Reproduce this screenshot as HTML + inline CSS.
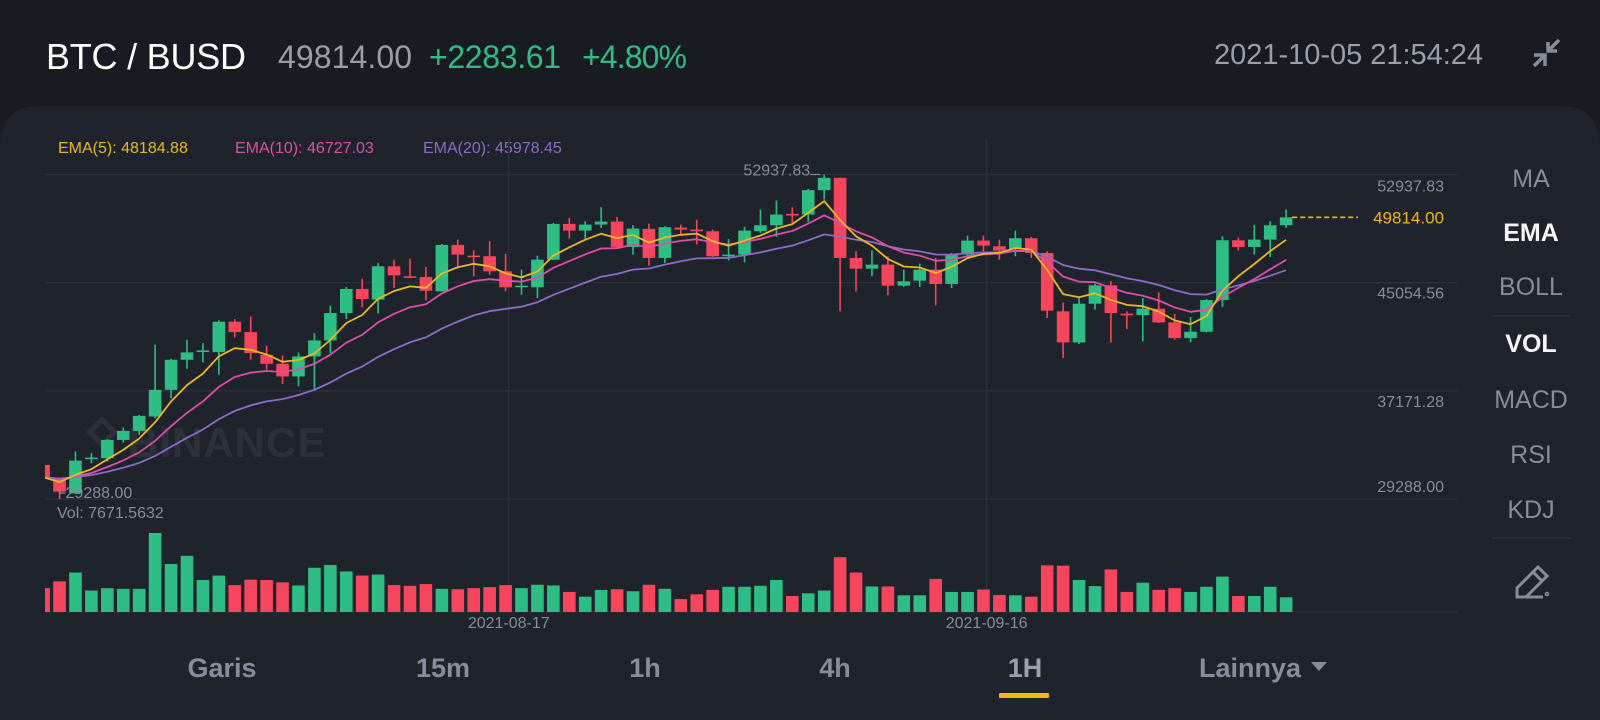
<!DOCTYPE html>
<html><head><meta charset="utf-8"><style>
html,body{margin:0;padding:0;background:#181b21;}
svg{display:block;font-family:"Liberation Sans",sans-serif;}
</style></head><body>
<svg id="chart" width="1600" height="720" viewBox="0 0 1600 720">
<rect x="0" y="0" width="1600" height="720" fill="#181b21"/>
<path d="M0 146 Q0 106 40 106 L1560 106 Q1600 106 1600 146 L1600 720 L0 720 Z" fill="#1f232b"/>
<g>
<text x="46" y="69" font-size="36" fill="#ffffff" textLength="200">BTC / BUSD</text>
<text x="278" y="68" font-size="32" fill="#9a9ea6" textLength="134">49814.00</text>
<text x="429" y="68" font-size="32" fill="#2ebd85" textLength="132">+2283.61</text>
<text x="582" y="68" font-size="32" fill="#2ebd85" textLength="105">+4.80%</text>
<text x="1214" y="64" font-size="29" fill="#9aa0aa" textLength="269">2021-10-05 21:54:24</text>
<g stroke="#848e9c" stroke-width="3.5" fill="none" transform="translate(31,0)">
<path d="M1503 66 L1514 55 M1503 55 L1514 55 L1514 66"/>
<path d="M1528 40 L1517 51 M1517 42 L1517 51 L1526 51"/>
</g>
</g>
<g font-size="16">
<text x="58" y="153" fill="#e8b923">EMA(5): 48184.88</text>
<text x="235" y="153" fill="#de4ea9">EMA(10): 46727.03</text>
<text x="423" y="153" fill="#8d6bc9">EMA(20): 45978.45</text>
</g>
<g id="grid"></g>
<g fill="#2c323c">
<path d="M102 416 L118 432 L102 448 L86 432 Z M102 423 L111 432 L102 441 L93 432 Z" fill-rule="evenodd"/>
<text x="128" y="457" font-size="42" font-weight="bold" letter-spacing="1">BINANCE</text>
</g>
<g id="vol"></g>
<g id="candles"></g>
<g id="emas"></g>
<g id="axis" font-size="16" fill="#848e9c"></g>
<text x="57" y="518" font-size="16" fill="#848e9c">Vol: 7671.5632</text>
<g font-size="16" fill="#848e9c" text-anchor="middle" id="dates"></g>
<g font-size="25" text-anchor="middle">
<text x="1531" y="187" fill="#848e9c">MA</text>
<text x="1531" y="241" fill="#f5f5f5" font-weight="bold">EMA</text>
<text x="1531" y="295" fill="#848e9c">BOLL</text>
<rect x="1492" y="315" width="78" height="1.5" fill="#2e333c"/>
<text x="1531" y="352" fill="#f5f5f5" font-weight="bold">VOL</text>
<text x="1531" y="408" fill="#848e9c">MACD</text>
<text x="1531" y="463" fill="#848e9c">RSI</text>
<text x="1531" y="518" fill="#848e9c">KDJ</text>
<rect x="1492" y="537" width="78" height="1.5" fill="#2e333c"/>
<g fill="none" stroke="#848e9c" stroke-width="3" transform="translate(31,0)">
<path d="M1486 597 L1486 588 L1507 567 L1516 576 L1495 597 Z M1502 572 L1511 581"/>
<path d="M1496 597 L1512 597"/><circle cx="1516" cy="594" r="0.8"/>
</g>
</g>
<g font-size="27" font-weight="bold" fill="#848e9c" text-anchor="middle">
<text x="222" y="677">Garis</text>
<text x="443" y="677">15m</text>
<text x="645" y="677">1h</text>
<text x="835" y="677">4h</text>
<text x="1025" y="677" fill="#9aa1ab">1H</text>
<rect x="999" y="693" width="50" height="5" rx="1" fill="#f0b90b"/>
<text x="1250" y="677">Lainnya</text>
<path d="M1311 662 L1327 662 L1319 671 Z" fill="#848e9c"/>
</g>
</svg>
<script>
const opens=[31771,30798,29703,32209,32258,33596,34253,35299,37245,39435,40019,39994,42209,41454,39800,39143,38219,39678,40846,42841,44593,43814,46247,45518,45469,44422,47805,47026,46977,45882,44739,44715,46734,49337,48851,49289,49508,47659,48972,46856,49070,48924,48802,47026,47099,48802,49240,50067,50018,51797,52695,46856,46077,46369,44836,45201,46004,44958,47099,48121,47707,47513,48291,47221,42963,40700,43522,44861,42792,42695,43158,42160,41016,41479,43790,48145,47659,48194,49240];
const highs=[31844,30850,32744,32623,33645,34496,35421,40530,39508,40895,40652,42306,42403,42598,40457,39751,39970,41381,43377,44739,45347,46491,46734,46807,46199,47878,48194,47415,48072,47148,46004,47026,49410,49775,49532,50554,49848,49264,49362,49167,49289,49653,48924,48242,49118,50383,51040,50554,51892,52937.83,52720,47342,47415,46977,46004,46442,46856,47221,48486,48486,48194,48851,48389,47342,43620,43936,44982,45153,42963,43936,44350,42768,42549,43863,48437,48340,49264,49532,50383];
const lows=[30798,29288,29650,31893,32014,33401,33961,35177,36637,38778,39240,38340,41065,39435,38705,37659,37489,37294,39921,42403,43255,42793,44666,45396,43766,44422,46247,45518,45639,44422,44179,43936,46700,48267,48267,49045,47600,47099,46296,46491,48486,47829,46929,46685,46539,48680,48389,49410,49483,51113,42963,44422,45518,44131,44739,44739,43401,44666,46977,47342,46734,46977,46856,42476,39556,40578,43085,40700,41673,40773,42111,40895,40700,41430,43279,47415,47099,46929,49045];
const closes=[30871,29825,32087,32306,33596,34253,35348,37245,39435,39970,40116,42209,41454,39921,39143,38219,39678,40846,42841,44593,43863,46247,45590,45445,44471,47805,47099,46929,45882,44715,44836,46734,49337,48851,49289,49508,47659,48997,46856,49094,48924,48802,46977,47099,48851,49240,50018,49970,51797,52695,46856,46077,46369,44836,45153,46004,44958,47099,48121,47756,47391,48291,47221,43011,40700,43522,44861,42841,42695,43158,42160,41016,41479,43790,48145,47659,48194,49240,49814];
const volumes=[12460,16020,20648,11214,12460,12104,12104,41296,25098,29370,16732,19046,14062,16910,16732,15486,13884,23140,24564,21182,19046,19580,14062,13706,14596,12104,11926,12460,12994,14062,12460,14240,13884,10502,8010,11570,11926,10858,14240,12104,6764,9256,11570,13172,13172,13706,16732,8366,9790,11214,28658,20648,13350,13350,8722,8722,17266,10502,10502,11748,8900,8722,8010,24386,24208,16732,13528,22250,10502,15308,11570,12460,10502,13172,18512,8366,8366,13172,7672];
const priceTicks=[52937.83,45054.56,37171.28,29288.00];
const dateLabels=["2021-08-17","2021-09-16"];
const dateIndex=[29.2,59.2];
const lastPrice=49814.00;

const NS="http://www.w3.org/2000/svg";
const X0=43.6, STEP=15.93, LEFT=45, RIGHT=1457;
const PTOP=174.5, PBOT=499, PMAX=52937.83, PMIN=29288;
const VBASE=612, VH=79;
const vmax=Math.max(...volumes);
function xAt(i){return X0+STEP*i;}
function yAt(p){return PTOP+(PMAX-p)/(PMAX-PMIN)*(PBOT-PTOP);}
function vh(v){return v/vmax*VH;}
function mk(tag,attrs,parent){const e=document.createElementNS(NS,tag);for(const k in attrs)e.setAttribute(k,attrs[k]);parent.appendChild(e);return e;}

const svg=document.getElementById('chart');
const defs=mk('defs',{},svg);
const cp=mk('clipPath',{id:'clip'},defs);
mk('rect',{x:LEFT,y:100,width:RIGHT-LEFT,height:520},cp);

const grid=document.getElementById('grid');
[...priceTicks.map(yAt),VBASE].forEach(y=>{
  const l=mk('line',{x1:LEFT,x2:RIGHT,y1:y,y2:y,stroke:'#2b303a','stroke-width':1.5},grid);
  
  
});
dateIndex.forEach(di=>{
  const x=xAt(di);
  const l=mk('line',{x1:x,x2:x,y1:138,y2:VBASE,stroke:'#2b303a','stroke-width':1.5},grid);
  
  
});

const vol=document.getElementById('vol');
vol.setAttribute('clip-path','url(#clip)');
const cg=document.getElementById('candles');
cg.setAttribute('clip-path','url(#clip)');
for(let i=0;i<closes.length;i++){
  const up=closes[i]>=opens[i];
  const col=up?'#2ebd85':'#f6465d';
  const x=xAt(i);
  const h=vh(volumes[i]);
  const vb=mk('rect',{x:x-6.3,y:VBASE-h,width:12.6,height:h,fill:col},vol);
  
  
  const g=mk('g',{},cg);
  
  
  mk('line',{x1:x,x2:x,y1:yAt(highs[i]),y2:yAt(lows[i]),stroke:col,'stroke-width':1.6},g);
  const yt=yAt(Math.max(opens[i],closes[i])),yb=yAt(Math.min(opens[i],closes[i]));
  mk('rect',{x:x-6.3,y:yt,width:12.6,height:Math.max(1.6,yb-yt),fill:col},g);
}

function ema(n){const k=2/(n+1);let e=closes[0];return closes.map((c,i)=>{e=i===0?c:c*k+e*(1-k);return e;});}
const eg=document.getElementById('emas');
eg.setAttribute('clip-path','url(#clip)');
[[20,'#8d6bc9','ema20-line'],[10,'#de4ea9','ema10-line'],[5,'#e8b923','ema5-line']].forEach(([n,c,name])=>{
  const vals=ema(n);
  const d=vals.map((v,i)=>(i?'L':'M')+xAt(i).toFixed(1)+' '+yAt(v).toFixed(1)).join(' ');
  const p=mk('path',{d:d,fill:'none',stroke:c,'stroke-width':1.8,'stroke-linejoin':'round'},eg);
  
  
});

const ax=document.getElementById('axis');
const labOff=[12,11,11,-12];
priceTicks.forEach((p,k)=>{
  const t=mk('text',{x:1444,y:yAt(p)+labOff[k]+5,'text-anchor':'end'},ax);
  t.textContent=p.toFixed(2);
  
  
});
const ly=yAt(lastPrice);
const dl=mk('line',{x1:xAt(closes.length-1)+6,x2:1358,y1:ly,y2:ly,stroke:'#f0b90b','stroke-width':1.6,'stroke-dasharray':'5 3'},svg);


const lt=mk('text',{x:1444,y:ly+6,'text-anchor':'end','font-size':17,fill:'#f0b90b'},svg);
lt.textContent=lastPrice.toFixed(2);


let hi=0,lo=0;highs.forEach((v,i)=>{if(v>highs[hi])hi=i;});lows.forEach((v,i)=>{if(v<lows[lo])lo=i;});
const hx=xAt(hi),hy=yAt(highs[hi]);
const ml=mk('line',{x1:hx-14,x2:hx-4,y1:hy,y2:hy,stroke:'#848e9c','stroke-width':1.2},svg);


const mt=mk('text',{x:hx-14,y:hy+1,'text-anchor':'end','font-size':16,fill:'#848e9c'},svg);
mt.textContent=highs[hi].toFixed(2);


const lx=xAt(lo),lyy=yAt(lows[lo]);
const nl=mk('path',{d:`M${lx} ${lyy-12} L${lx} ${lyy-6} L${lx+6} ${lyy-6}`,fill:'none',stroke:'#848e9c','stroke-width':1.2},svg);


const nt=mk('text',{x:lx+6,y:lyy-6+5,'font-size':16,fill:'#848e9c'},svg);
nt.textContent=lows[lo].toFixed(2);



const dg=document.getElementById('dates');
dateLabels.forEach((s,k)=>{
  const t=mk('text',{x:xAt(dateIndex[k]),y:628},dg);
  t.textContent=s;
  
  
});
</script>
</body></html>
